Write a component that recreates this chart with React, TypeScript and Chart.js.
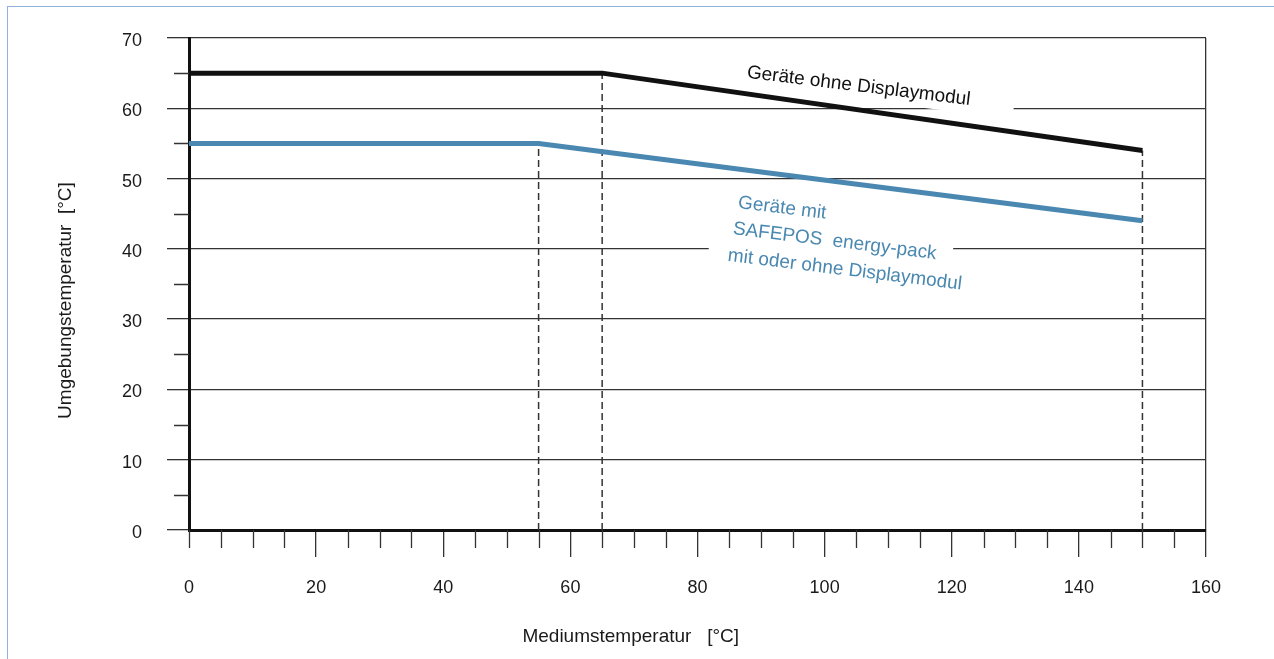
import { useEffect, useRef } from "react";
import { Chart, registerables } from "chart.js";

Chart.register(...registerables);

// ---- data ----
const blackX = [0, 65, 150];
const blackY = [65, 65, 54];
const blueX = [0, 55, 150];
const blueY = [55, 55, 44];
const dropX = [55, 65, 150];
const dropY = [55, 65, 54];
const xTitle = "Mediumstemperatur   [°C]";
const yTitle = "Umgebungstemperatur  [°C]";
const blackLabel = ["Geräte ohne Displaymodul"];
const blueLabel = ["Geräte mit", "SAFEPOS  energy-pack", "mit oder ohne Displaymodul"];

// ---- styles ----
const FONT = "'Liberation Sans', Arial, Helvetica, sans-serif";
const BLUE = "#4a88b1";
const DARK = "#111111";
const GRID = "#333333";
const TEXT = "#1a1a1a";
const ANGLE = (7 * Math.PI) / 180;

const labelGroups = [
  { lines: blackLabel, color: DARK, at: [[87.8, 65.1]], padL: 10, padR: 44, half: 13.7 },
  {
    lines: blueLabel,
    color: BLUE,
    at: [
      [86.4, 46.56],
      [85.6, 42.84],
      [84.8, 39.04],
    ],
    padL: 20,
    padR: 16,
    half: 15,
  },
];

const isMajorY = (v: number) => v % 10 === 0;
const isMajorX = (v: number) => v % 20 === 0 && v > 0;

const annotPlugin = {
  id: "annot",
  beforeDatasetsDraw(chart: any) {
    const { ctx, scales } = chart;
    const x = scales.x;
    const y = scales.y;
    ctx.save();
    // white boxes behind labels
    ctx.font = `19px ${FONT}`;
    for (const g of labelGroups) {
      g.lines.forEach((t, i) => {
        const px = x.getPixelForValue(g.at[i][0]);
        const py = y.getPixelForValue(g.at[i][1]);
        const w = ctx.measureText(t).width;
        ctx.save();
        ctx.translate(px, py);
        ctx.rotate(ANGLE);
        ctx.fillStyle = "#ffffff";
        ctx.fillRect(-g.padL, -g.half, w + g.padL + g.padR, 2 * g.half);
        ctx.restore();
      });
    }
    // minor ticks
    ctx.strokeStyle = GRID;
    ctx.lineWidth = 1.3;
    ctx.beginPath();
    for (const t of y.ticks) {
      if (isMajorY(t.value)) continue;
      const py = Math.round(y.getPixelForValue(t.value)) + 0.5;
      ctx.moveTo(chart.chartArea.left - 15, py);
      ctx.lineTo(chart.chartArea.left, py);
    }
    for (const t of x.ticks) {
      if (isMajorX(t.value)) continue;
      const px = Math.round(x.getPixelForValue(t.value)) + 0.5;
      ctx.moveTo(px, chart.chartArea.bottom);
      ctx.lineTo(px, chart.chartArea.bottom + 18);
    }
    ctx.stroke();
    ctx.restore();
  },
  afterDatasetsDraw(chart: any) {
    const { ctx, scales } = chart;
    const x = scales.x;
    const y = scales.y;
    ctx.save();
    ctx.font = `19px ${FONT}`;
    ctx.textAlign = "left";
    ctx.textBaseline = "middle";
    for (const g of labelGroups) {
      g.lines.forEach((t, i) => {
        const px = x.getPixelForValue(g.at[i][0]);
        const py = y.getPixelForValue(g.at[i][1]);
        ctx.save();
        ctx.translate(px, py);
        ctx.rotate(ANGLE);
        ctx.fillStyle = g.color;
        ctx.fillText(t, 0, 0);
        ctx.restore();
      });
    }
    ctx.restore();
  },
  afterDraw(chart: any) {
    const { ctx, scales } = chart;
    const x = scales.x;
    const y = scales.y;
    ctx.save();
    ctx.font = `19px ${FONT}`;
    ctx.fillStyle = TEXT;
    ctx.textAlign = "center";
    ctx.textBaseline = "middle";
    ctx.fillText(xTitle, x.getPixelForValue(69.5), x.bottom - 22);
    ctx.translate(y.left + 66, y.getPixelForValue(32.65));
    ctx.rotate(-Math.PI / 2);
    ctx.fillText(yTitle, 0, 0);
    ctx.restore();
  },
};

const line = (xs: number[], ys: number[]) => xs.map((v, i) => ({ x: v, y: ys[i] }));

export default function App() {
  const ref = useRef<HTMLCanvasElement>(null);
  useEffect(() => {
    const chart = new Chart(ref.current as HTMLCanvasElement, {
      type: "scatter",
      data: {
        datasets: [
          {
            data: line(blackX, blackY),
            borderColor: DARK,
            backgroundColor: DARK,
            borderWidth: 5,
            pointRadius: 0,
            showLine: true,
            borderJoinStyle: "miter",
            order: 1,
          },
          {
            data: line(blueX, blueY),
            borderColor: BLUE,
            backgroundColor: BLUE,
            borderWidth: 5,
            pointRadius: 0,
            showLine: true,
            borderJoinStyle: "miter",
            order: 2,
          },
          ...dropX.map((v, i) => ({
            data: [
              { x: v, y: 0 },
              { x: v, y: dropY[i] },
            ],
            borderColor: GRID,
            backgroundColor: GRID,
            borderWidth: 1.5,
            borderDash: [7, 4],
            pointRadius: 0,
            showLine: true,
            order: 3,
          })),
        ],
      } as any,
      options: {
        animation: false,
        responsive: false,
        maintainAspectRatio: false,
        layout: { padding: { top: 38, right: 68, left: 0, bottom: 0 } },
        plugins: { legend: { display: false }, tooltip: { enabled: false } },
        scales: {
          x: {
            type: "linear",
            position: "bottom",
            min: 0,
            max: 160,
            afterFit: (s: any) => {
              s.height = 129;
            },
            ticks: {
              stepSize: 5,
              autoSkip: false,
              maxRotation: 0,
              minRotation: 0,
              padding: 20,
              color: TEXT,
              font: { family: FONT, size: 18 },
              callback: (v: any) => (Number(v) % 20 === 0 ? String(v) : ""),
            },
            grid: {
              color: (c: any) => (c.tick && c.tick.value === 160 ? GRID : "rgba(0,0,0,0)"),
              lineWidth: 1.3,
              tickLength: 27,
              tickWidth: 1.3,
              tickColor: (c: any) => (c.tick && isMajorX(c.tick.value) ? GRID : "rgba(0,0,0,0)"),
            },
            border: { color: DARK, width: 3 },
          },
          y: {
            type: "linear",
            position: "left",
            min: 0,
            max: 70,
            afterFit: (s: any) => {
              s.width = 189;
            },
            ticks: {
              stepSize: 5,
              autoSkip: false,
              padding: 25,
              labelOffset: 3,
              color: TEXT,
              font: { family: FONT, size: 18 },
              callback: (v: any) => (Number(v) % 10 === 0 ? String(v) : ""),
            },
            grid: {
              color: (c: any) => (c.tick && isMajorY(c.tick.value) ? GRID : "rgba(0,0,0,0)"),
              lineWidth: 1.3,
              tickLength: 22,
              tickWidth: 1.3,
              tickColor: (c: any) => (c.tick && isMajorY(c.tick.value) ? GRID : "rgba(0,0,0,0)"),
            },
            border: { color: DARK, width: 3 },
          },
        },
      },
      plugins: [annotPlugin],
    } as any);
    return () => chart.destroy();
  }, []);

  return (
    <div
      style={{
        position: "fixed",
        left: 0,
        top: 0,
        width: 1274,
        height: 659,
        overflow: "hidden",
        background: "#ffffff",
      }}
    >
      <div
        style={{
          position: "absolute",
          left: 7,
          top: 6,
          width: 1400,
          height: 800,
          border: "1px solid #8fb1dc",
        }}
      />
      <canvas
        ref={ref}
        width={1274}
        height={659}
        style={{ position: "absolute", left: 0, top: 0, width: 1274, height: 659 }}
      />
    </div>
  );
}
